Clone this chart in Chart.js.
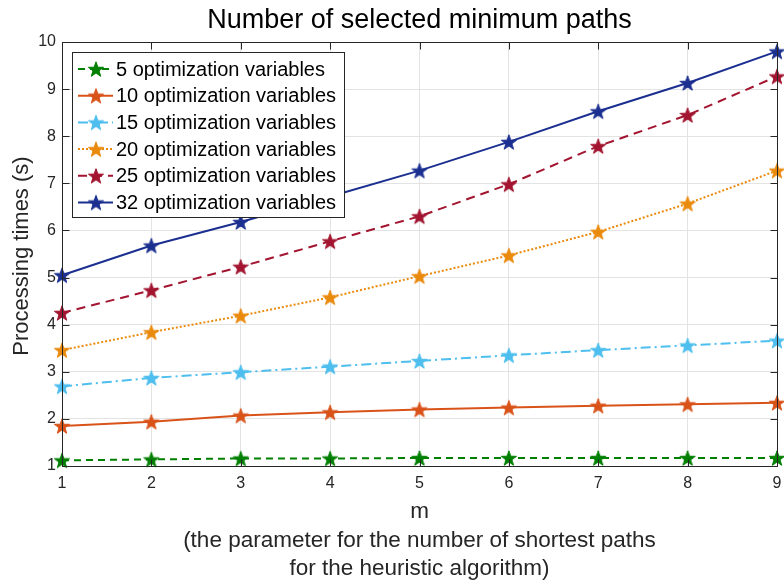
<!DOCTYPE html>
<html><head><meta charset="utf-8">
<script src="https://cdn.jsdelivr.net/npm/chart.js@4/dist/chart.umd.min.js"></script>
<style>html,body{margin:0;padding:0;background:#fff}canvas{display:block}</style>
</head><body>
<canvas id="c" width="784" height="586"></canvas>
<script>
const mValues = [1, 2, 3, 4, 5, 6, 7, 8, 9];
const seriesNames = ['5 optimization variables', '10 optimization variables', '15 optimization variables',
  '20 optimization variables', '25 optimization variables', '32 optimization variables'];
const v5  = [1.12, 1.14, 1.16, 1.16, 1.17, 1.17, 1.17, 1.17, 1.17];
const v10 = [1.85, 1.94, 2.07, 2.14, 2.20, 2.24, 2.28, 2.31, 2.34];
const v15 = [2.69, 2.87, 2.99, 3.11, 3.23, 3.35, 3.46, 3.56, 3.66];
const v20 = [3.46, 3.84, 4.19, 4.58, 5.03, 5.47, 5.97, 6.57, 7.27];
const v25 = [4.25, 4.73, 5.23, 5.77, 6.30, 6.98, 7.79, 8.45, 9.27];
const v32 = [5.05, 5.68, 6.18, 6.72, 7.27, 7.88, 8.53, 9.13, 9.80];
const yTicks = [1, 2, 3, 4, 5, 6, 7, 8, 9, 10];
const titleText = 'Number of selected minimum paths';
const yLabel = 'Processing times (s)';
const xLabelLines = ['m', '(the parameter for the number of shortest paths', 'for the heuristic algorithm)'];

const colors = ['#008000', '#D95319', '#4DBEEE', '#EA8A0C', '#A2142F', '#1B2F90'];
const dashes = [[7, 5], [], [10, 4, 2, 4], [2, 2], [9, 6], []];
const allValues = [v5, v10, v15, v20, v25, v32];
const FONT = '"Liberation Sans", Arial, Helvetica, sans-serif';
const TXT = '#262626';

function makeStar(color, R) {
  const c = document.createElement('canvas');
  const s = Math.ceil(R * 2 + 2);
  c.width = s; c.height = s;
  const g = c.getContext('2d');
  const cx = s / 2, cy = s / 2 + 0.8, r = R * 0.4;
  g.beginPath();
  for (let i = 0; i < 10; i++) {
    const rad = i % 2 === 0 ? R : r;
    const a = -Math.PI / 2 + i * Math.PI / 5;
    const x = cx + rad * Math.cos(a), y = cy + rad * Math.sin(a);
    if (i === 0) g.moveTo(x, y); else g.lineTo(x, y);
  }
  g.closePath();
  g.fillStyle = color; g.fill();
  g.lineWidth = 1; g.strokeStyle = color; g.stroke();
  return c;
}
const stars = colors.map(c => makeStar(c, 8));

const datasets = allValues.map((vals, i) => ({
  label: seriesNames[i],
  data: mValues.map((m, j) => ({ x: m, y: vals[j] })),
  borderColor: colors[i],
  backgroundColor: colors[i],
  borderWidth: 2,
  borderDash: dashes[i],
  pointStyle: stars[i],
  pointRadius: 8,
  tension: 0,
  clip: false
}));

const decor = {
  id: 'decor',
  afterDraw(chart) {
    const ctx = chart.ctx;
    const a = chart.chartArea;
    const xs = chart.scales.x, ys = chart.scales.y;
    ctx.save();
    // box + inward ticks
    ctx.strokeStyle = TXT; ctx.lineWidth = 1; ctx.setLineDash([]);
    const L = Math.round(a.left) + 0.5, R = Math.round(a.right) + 0.5;
    const T = Math.round(a.top) + 0.5, B = Math.round(a.bottom) + 0.5;
    ctx.strokeRect(L, T, R - L, B - T);
    ctx.beginPath();
    mValues.forEach(m => {
      const x = Math.round(xs.getPixelForValue(m)) + 0.5;
      ctx.moveTo(x, B); ctx.lineTo(x, B - 7);
      ctx.moveTo(x, T); ctx.lineTo(x, T + 7);
    });
    yTicks.forEach(v => {
      const y = Math.round(ys.getPixelForValue(v)) + 0.5;
      ctx.moveTo(L, y); ctx.lineTo(L + 7, y);
      ctx.moveTo(R, y); ctx.lineTo(R - 7, y);
    });
    ctx.stroke();

    // tick labels
    ctx.fillStyle = TXT;
    ctx.font = '16px ' + FONT;
    ctx.textAlign = 'center'; ctx.textBaseline = 'middle';
    mValues.forEach(m => ctx.fillText(String(m), xs.getPixelForValue(m), 484));
    ctx.textAlign = 'right';
    yTicks.forEach(v => ctx.fillText(String(v), a.left - 6, ys.getPixelForValue(v)));

    // title
    ctx.fillStyle = '#000';
    ctx.font = '27px ' + FONT;
    ctx.textAlign = 'center'; ctx.textBaseline = 'alphabetic';
    ctx.fillText(titleText, (a.left + a.right) / 2, 28);

    // y label
    ctx.save();
    ctx.translate(22, (a.top + a.bottom) / 2 + 2);
    ctx.rotate(-Math.PI / 2);
    ctx.fillStyle = TXT;
    ctx.font = '22px ' + FONT;
    ctx.textBaseline = 'middle';
    ctx.fillText(yLabel, 0, 0);
    ctx.restore();

    // x label lines
    ctx.fillStyle = TXT;
    ctx.font = '22.5px ' + FONT;
    ctx.textBaseline = 'alphabetic';
    const cx = (a.left + a.right) / 2;
    ctx.fillText(xLabelLines[0], cx, 518);
    ctx.fillText(xLabelLines[1], cx, 547);
    ctx.fillText(xLabelLines[2], cx, 575);

    // legend
    const lx = 72.5, ly = 52.5, lw = 272, lh = 165;
    ctx.fillStyle = '#fff';
    ctx.fillRect(lx, ly, lw, lh);
    ctx.strokeStyle = TXT; ctx.lineWidth = 1;
    ctx.strokeRect(lx, ly, lw, lh);
    ctx.font = '20px ' + FONT;
    ctx.textAlign = 'left'; ctx.textBaseline = 'middle';
    datasets.forEach((d, i) => {
      const y = 69 + i * 26.7;
      ctx.strokeStyle = d.borderColor; ctx.lineWidth = 2;
      ctx.setLineDash(d.borderDash);
      ctx.beginPath(); ctx.moveTo(78, y); ctx.lineTo(113, y); ctx.stroke();
      ctx.setLineDash([]);
      const img = d.pointStyle;
      ctx.drawImage(img, 96 - img.width / 2, y - img.height / 2);
      ctx.fillStyle = '#000';
      ctx.fillText(d.label, 116, y + 1);
    });
    ctx.restore();
  }
};

new Chart(document.getElementById('c'), {
  type: 'line',
  data: { datasets },
  options: {
    responsive: false,
    animation: false,
    layout: { autoPadding: false, padding: { left: 0, right: 7, top: 42, bottom: 0 } },
    plugins: { legend: { display: false }, title: { display: false }, tooltip: { enabled: false } },
    scales: {
      x: {
        type: 'linear', min: 1, max: 9,
        afterFit(s) { s.height = 120; s.paddingLeft = 0; s.paddingRight = 0; },
        afterBuildTicks(s) { s.ticks = mValues.map(v => ({ value: v })); },
        grid: { color: '#e3e3e3', drawTicks: false },
        border: { display: false },
        ticks: { display: false }
      },
      y: {
        min: 1, max: 10,
        afterFit(s) { s.width = 62; s.paddingTop = 0; s.paddingBottom = 0; },
        afterBuildTicks(s) { s.ticks = yTicks.map(v => ({ value: v })); },
        grid: { color: '#e3e3e3', drawTicks: false },
        border: { display: false },
        ticks: { display: false }
      }
    }
  },
  plugins: [decor]
});
</script>
</body></html>
